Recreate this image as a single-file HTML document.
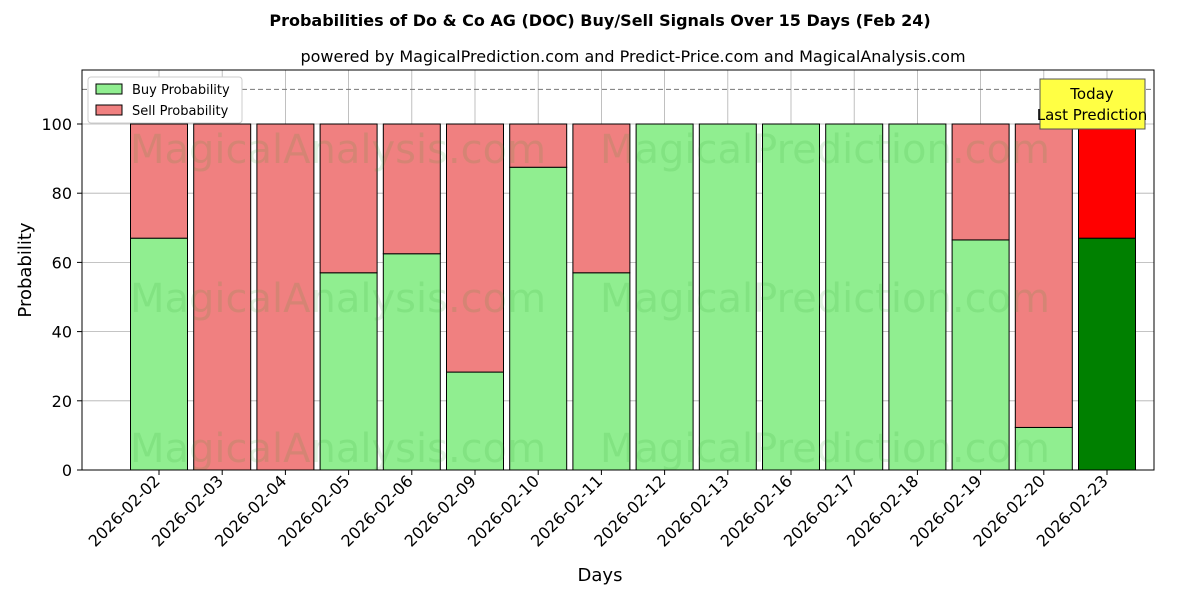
<!DOCTYPE html>
<html><head><meta charset="utf-8"><style>
body{margin:0;background:#fff;font-family:"Liberation Sans","DejaVu Sans",sans-serif;}
</style></head><body>
<svg id="chart" width="1200" height="600" xmlns="http://www.w3.org/2000/svg" font-family="DejaVu Sans, Liberation Sans, sans-serif">
<text x="600" y="26" text-anchor="middle" font-size="16" font-weight="bold">Probabilities of Do &amp; Co AG (DOC) Buy/Sell Signals Over 15 Days (Feb 24)</text>
<text x="633" y="62" text-anchor="middle" font-size="16">powered by MagicalPrediction.com and Predict-Price.com and MagicalAnalysis.com</text>
<g id="grid"></g>
<g id="bars"></g>
<g id="watermarks" font-size="40" fill="#2ca02c" opacity="0.13">
<text x="130" y="163">MagicalAnalysis.com</text><text x="600" y="163">MagicalPrediction.com</text>
<text x="130" y="312">MagicalAnalysis.com</text><text x="600" y="312">MagicalPrediction.com</text>
<text x="130" y="462">MagicalAnalysis.com</text><text x="600" y="462">MagicalPrediction.com</text>
</g>
<line x1="82" x2="1154" y1="89.4" y2="89.4" stroke="#777" stroke-dasharray="5,3"/>
<rect x="82" y="70" width="1072" height="400" fill="none" stroke="#000"/>
<g id="axes"></g>
<text x="600" y="581" text-anchor="middle" font-size="18">Days</text>
<text transform="translate(31,270) rotate(-90)" text-anchor="middle" font-size="18">Probability</text>
<g>
<rect x="88" y="77" width="154" height="46" fill="#fff" stroke="#ccc" rx="3"/>
<rect x="96" y="84" width="26" height="10" fill="#90ee90" stroke="#000"/>
<text x="132" y="94" font-size="13">Buy Probability</text>
<rect x="96" y="105" width="26" height="10" fill="#f08080" stroke="#000"/>
<text x="132" y="115" font-size="13">Sell Probability</text>
</g>
<g>
<rect x="1040" y="79" width="105" height="50" fill="#ffff44" stroke="#555"/>
<text x="1092" y="99" text-anchor="middle" font-size="15">Today</text>
<text x="1092" y="120" text-anchor="middle" font-size="15">Last Prediction</text>
</g>
</svg>
<script>
const days=["2026-02-02","2026-02-03","2026-02-04","2026-02-05","2026-02-06","2026-02-09","2026-02-10","2026-02-11","2026-02-12","2026-02-13","2026-02-16","2026-02-17","2026-02-18","2026-02-19","2026-02-20","2026-02-23"];
const buy=[67,0,0,57,62.5,28.3,87.5,57,100,100,100,100,100,66.5,12.3,67];
const yTicks=[0,20,40,60,80,100];
const NS="http://www.w3.org/2000/svg";
const xs=i=>159+63.2*i;
const ys=v=>470-3.46*v;
const bw=57;
function mk(t,a,p){const e=document.createElementNS(NS,t);for(const k in a)e.setAttribute(k,a[k]);p.appendChild(e);return e;}
const grid=document.getElementById('grid'),bars=document.getElementById('bars'),axes=document.getElementById('axes');
yTicks.forEach(v=>{
 const l=mk('line',{x1:82,x2:1154,y1:ys(v),y2:ys(v),stroke:'#b0b0b0','stroke-width':0.8},grid);
 
 
 mk('line',{x1:77,x2:82,y1:ys(v),y2:ys(v),stroke:'#000'},axes);
 const t=mk('text',{x:72,y:ys(v)+6,'text-anchor':'end','font-size':16},axes);t.textContent=v;
 
 
});
days.forEach((d,i)=>{
 const x=xs(i);
 const g=mk('line',{x1:x,x2:x,y1:70,y2:470,stroke:'#b0b0b0','stroke-width':0.8},grid);
 
 
 const last=i===days.length-1;
 const b=buy[i],s=100-b;
 if(b>0){const r=mk('rect',{x:x-bw/2,y:ys(b),width:bw,height:ys(0)-ys(b),fill:last?'#008000':'#90ee90',stroke:'#000'},bars);
 
 }
 if(s>0){const r=mk('rect',{x:x-bw/2,y:ys(100),width:bw,height:ys(b)-ys(100),fill:last?'#ff0000':'#f08080',stroke:'#000'},bars);
 
 }
 mk('line',{x1:x,x2:x,y1:470,y2:475,stroke:'#000'},axes);
 const tx=x+2,ty=482;
 const t=mk('text',{x:tx,y:ty,'text-anchor':'end','font-size':16,transform:`rotate(-45 ${tx} ${ty})`},axes);t.textContent=d;
 
 
});
</script>
</body></html>
